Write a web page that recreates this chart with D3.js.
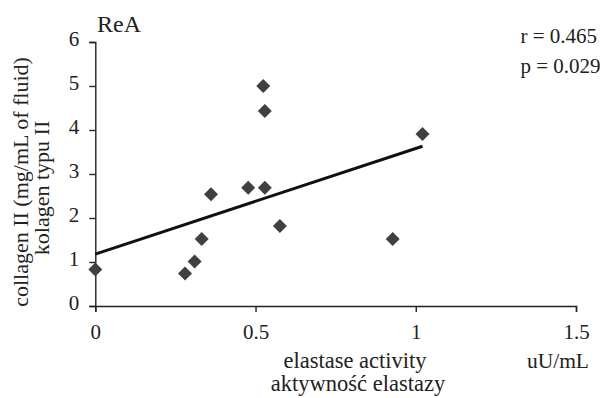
<!DOCTYPE html>
<html>
<head>
<meta charset="utf-8">
<script src="https://cdn.jsdelivr.net/npm/d3@7"></script>
<style>
  html, body { margin: 0; padding: 0; background: #fff; }
  svg text { font-family: "Liberation Serif", "Times New Roman", serif; fill: #222; }
</style>
</head>
<body>
<svg id="chart" width="605" height="398"></svg>
<script>
// elastase activity (uU/mL) vs collagen II (mg/mL of fluid), ReA group
const elastase = [0, 0.28, 0.31, 0.332, 0.361, 0.477, 0.524, 0.529, 0.529, 0.576, 0.928, 1.021];
const collagen = [0.83, 0.74, 1.01, 1.52, 2.54, 2.69, 5.0, 4.43, 2.69, 1.82, 1.52, 3.91];
const xTicks = [0, 0.5, 1, 1.5];
const yTicks = [0, 1, 2, 3, 4, 5, 6];
const trendIntercept = 1.18;
const trendSlope = 2.4;
const statLabels = ["r = 0.465", "p = 0.029"];

const svg = d3.select("#chart");
const margin = { left: 95.3, top: 42, right: 29, bottom: 92 };
const width = +svg.attr("width");
const height = +svg.attr("height");

const x = d3.scaleLinear().domain([0, 1.5]).range([margin.left, width - margin.right]);
const y = d3.scaleLinear().domain([0, 6]).range([height - margin.bottom, margin.top]);

// axes
const xAxis = svg.append("g")
  .attr("transform", `translate(0,${y(0)})`)
  .call(d3.axisBottom(x).tickValues(xTicks).tickFormat(d3.format("")).tickSizeOuter(0).tickSize(6).tickPadding(12));

const yAxis = svg.append("g")
  .attr("transform", `translate(${x(0)},0)`)
  .call(d3.axisLeft(y).tickValues(yTicks).tickFormat(d3.format("d")).tickSizeOuter(0).tickSize(6).tickPadding(10));

[xAxis, yAxis].forEach((g) => {
  g.select(".domain").attr("stroke", "#222").attr("stroke-width", 1.4);
  g.selectAll(".tick line").attr("stroke", "#222").attr("stroke-width", 1.4);
  g.selectAll(".tick text")
    .style("font-family", '"Liberation Serif", "Times New Roman", serif')
    .style("font-size", "21px")
    .attr("fill", "#222");
});
yAxis.selectAll(".tick text").attr("dy", "0.18em");

// trend line
const xMax = d3.max(elastase);
svg.append("line")
  .attr("x1", x(0))
  .attr("y1", y(trendIntercept))
  .attr("x2", x(xMax))
  .attr("y2", y(trendIntercept + trendSlope * xMax))
  .attr("stroke", "#111")
  .attr("stroke-width", 3);

// points (diamonds)
const diamond = d3.symbol().type(d3.symbolSquare).size(98);
svg.append("g")
  .selectAll("path")
  .data(elastase.map((d, i) => [d, collagen[i]]))
  .join("path")
  .attr("d", diamond)
  .attr("transform", (d) => `translate(${x(d[0])},${y(d[1])}) rotate(45)`)
  .attr("fill", "#404040");

// title
svg.append("text")
  .attr("x", 97)
  .attr("y", 32)
  .style("font-size", "24px")
  .text("ReA");

// stats
svg.selectAll(".stat")
  .data(statLabels)
  .join("text")
  .attr("class", "stat")
  .attr("x", 520.5)
  .attr("y", (d, i) => 43 + i * 30)
  .style("font-size", "21px")
  .text((d) => d);

// x label
svg.append("text")
  .attr("x", 355)
  .attr("y", 368)
  .attr("text-anchor", "middle")
  .style("font-size", "22.5px")
  .text("elastase activity");
svg.append("text")
  .attr("x", 358)
  .attr("y", 391)
  .attr("text-anchor", "middle")
  .style("font-size", "22.5px")
  .text("aktywność elastazy");
svg.append("text")
  .attr("x", 589)
  .attr("y", 368)
  .attr("text-anchor", "end")
  .style("font-size", "21.5px")
  .text("uU/mL");

// y label
const yLab = svg.append("g").attr("transform", "translate(0,182) rotate(-90)");
yLab.append("text")
  .attr("x", 0)
  .attr("y", 28)
  .attr("text-anchor", "middle")
  .style("font-size", "22px")
  .text("collagen II (mg/mL of fluid)");
yLab.append("text")
  .attr("x", -6)
  .attr("y", 49)
  .attr("text-anchor", "middle")
  .style("font-size", "22px")
  .text("kolagen typu II");
</script>
</body>
</html>
